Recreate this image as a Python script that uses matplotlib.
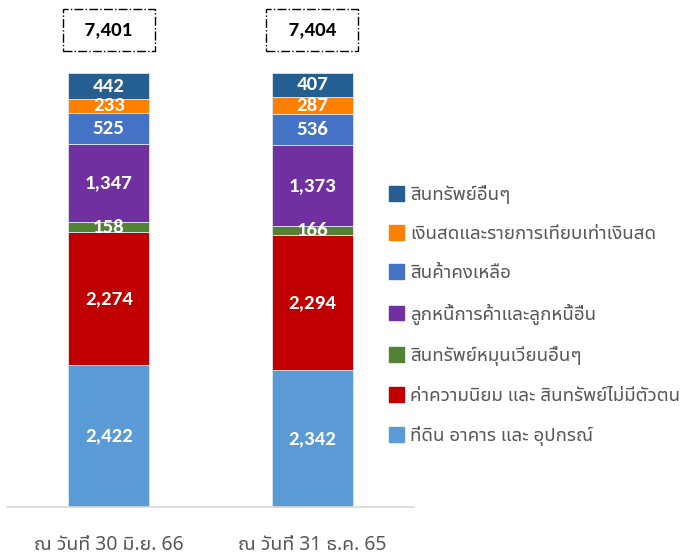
import matplotlib
matplotlib.use('Agg')
import matplotlib.pyplot as plt
from matplotlib.patches import Patch

plt.rcParams['font.family'] = ['Noto Sans Thai UI', 'Noto Sans', 'DejaVu Sans']

periods = ['ณ วันที่ 30 มิ.ย. 66', 'ณ วันที่ 31 ธ.ค. 65']
totals = [7401, 7404]

# bottom to top
series_names = [
    'ที่ดิน อาคาร และ อุปกรณ์',
    'ค่าความนิยม และ สินทรัพย์ไม่มีตัวตน',
    'สินทรัพย์หมุนเวียนอื่นๆ',
    'ลูกหนี้การค้าและลูกหนี้อื่น',
    'สินค้าคงเหลือ',
    'เงินสดและรายการเทียบเท่าเงินสด',
    'สินทรัพย์อื่นๆ',
]
ppe = [2422, 2342]
goodwill = [2274, 2294]
other_current = [158, 166]
receivables = [1347, 1373]
inventory = [525, 536]
cash = [233, 287]
other_assets = [442, 407]
series_values = [ppe, goodwill, other_current, receivables, inventory, cash, other_assets]
colors = ['#5B9BD5', '#C00000', '#548235', '#7030A0', '#4472C4', '#FF8000', '#255E91']

num_font = ['Carlito', 'Open Sans', 'DejaVu Sans']

fig = plt.figure(figsize=(6.9, 5.6), dpi=100)
ax = fig.add_axes([7 / 690, 53 / 560, 407 / 690, 507 / 560])

x = range(len(periods))
bottoms = [0, 0]
for vals, col in zip(series_values, colors):
    bars = ax.bar(x, vals, width=0.4, bottom=bottoms, color=col,
                  edgecolor='#dfe6ee', linewidth=0.6)
    for b, v, bt in zip(bars, vals, bottoms):
        ax.text(b.get_x() + b.get_width() / 2, bt + v / 2, f'{v:,}',
                ha='center', va='center', color='white', fontsize=15,
                fontweight='bold', family=num_font)
    bottoms = [bt + v for bt, v in zip(bottoms, vals)]

for i, t in enumerate(totals):
    ax.annotate(f'  {t:,}  ', xy=(i, bottoms[i]), xytext=(0, 31),
                textcoords='offset points', ha='center', va='center',
                fontsize=15, fontweight='bold', family=num_font,
                bbox=dict(boxstyle='square,pad=0.6', fc='white', ec='black',
                          ls='-.', lw=1))

ax.set_xlim(-0.5, 1.5)
ax.set_ylim(0, 8650)
ax.set_xticks(list(x))
ax.set_xticklabels(periods, fontsize=14, color='#595959')
ax.tick_params(axis='x', length=0, pad=20)
ax.set_yticks([])
for s in ['top', 'right', 'left']:
    ax.spines[s].set_visible(False)
ax.spines['bottom'].set_color('#D9D9D9')
ax.spines['bottom'].set_linewidth(1.2)

handles = [Patch(color=c, label=n) for n, c in zip(series_names, colors)][::-1]
fig.legend(handles=handles, loc='upper left', bbox_to_anchor=(372 / 690, 1 - 168 / 560),
           frameon=False, fontsize=13.5, labelcolor='#595959',
           handlelength=0.83, handleheight=0.83, handletextpad=0.3, labelspacing=1.13)

fig.savefig('out.png', dpi=100)
